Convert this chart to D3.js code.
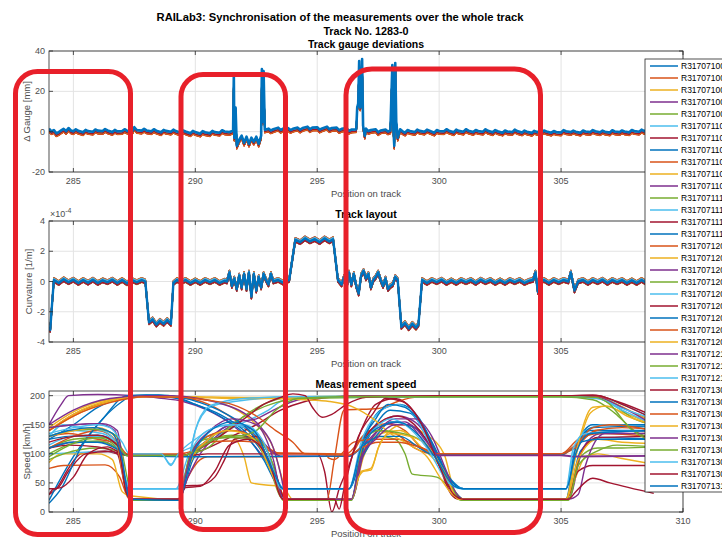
<!DOCTYPE html>
<html>
<head>
<meta charset="utf-8">
<script src="https://cdn.jsdelivr.net/npm/d3@7"></script>
<style>
  body { margin: 0; background: #fff; }
  text { font-family: "Liberation Sans", Arial, sans-serif; }
</style>
</head>
<body>
<div id="chart"></div>
<script>
// ---- data ----
const seriesNames = [
  'R31707100','R31707100','R31707100','R31707100','R31707100',
  'R31707110','R31707110','R31707110','R31707110','R31707110','R31707110',
  'R31707111','R31707111','R31707111','R31707111',
  'R31707120','R31707120','R31707120','R31707120','R31707120','R31707120','R31707120','R31707120','R31707120',
  'R31707121','R31707121','R31707121',
  'R31707130','R31707130','R31707130','R31707130','R31707130','R31707130','R31707130','R31707130',
  'R31707131'
]
const lineColors = ['#0072BD','#D95319','#EDB120','#7E2F8E','#77AC30','#4DBEEE','#A2142F']

const xTicks = [285, 290, 295, 300, 305, 310]
const gaugeTicks = [-20, 0, 20, 40]
const curvTicks = [-4, -2, 0, 2, 4]
const speedTicks = [0, 50, 100, 150, 200]

// track gauge deviation [mm], top trace (last run)
const gaugeTrace = [[284.0,1.5],[284.1,0.2],[284.2,0.8],[284.3,-0.8],[284.4,-0.2],[284.5,0.6],[284.6,1.4],[284.7,0.3],[284.8,1.8],[284.9,0.6],[285.0,0.2],[285.1,1.2],[285.2,0.4],[285.4,-0.3],[285.5,0.9],[285.6,0.3],[285.8,0],[285.9,1.1],[286.0,0.5],[286.2,0.3],[286.3,1.3],[286.4,0.6],[286.6,-0.2],[286.7,0.9],[286.8,0.2],[287.0,0.3],[287.1,1.2],[287.2,0.5],[287.4,0],[287.5,2.2],[287.6,0.8],[287.8,0.5],[287.9,1.4],[288.0,0.6],[288.2,0.2],[288.3,1.2],[288.4,0.5],[288.6,-0.3],[288.7,0.9],[288.8,0.4],[289.0,0],[289.1,1.0],[289.2,0.3],[289.4,-0.5],[289.5,0.6],[289.6,0.1],[289.8,-0.8],[289.9,0.4],[290.0,-0.2],[290.2,-1.0],[290.3,0.3],[290.4,-0.3],[290.6,-0.8],[290.7,0.4],[290.8,-0.2],[291.0,-0.5],[291.1,0.7],[291.2,0.1],[291.4,-0.2],[291.55,0.5],[291.58,28],[291.6,-3],[291.65,12],[291.7,-7],[291.8,-4],[291.9,-2],[292.0,-5.5],[292.1,-2.5],[292.2,-6],[292.3,-3],[292.4,-5],[292.5,-2.5],[292.6,-6],[292.7,-2],[292.73,31],[292.76,5],[292.8,30],[292.85,1],[293.0,1.5],[293.1,0.6],[293.2,1.2],[293.4,2.0],[293.5,0.9],[293.6,1.5],[293.8,1.8],[293.9,0.8],[294.0,1.4],[294.2,2.0],[294.3,1.0],[294.4,1.8],[294.6,2.5],[294.7,1.2],[294.8,2.0],[295.0,2.2],[295.1,1.0],[295.2,1.6],[295.4,2.5],[295.5,1.2],[295.6,1.8],[295.8,2.0],[295.9,0.8],[296.0,1.4],[296.2,1.8],[296.3,0.4],[296.4,1.0],[296.6,1.2],[296.64,12],[296.68,14],[296.72,35],[296.76,12],[296.8,14],[296.84,36],[296.88,3],[296.95,-2],[297.0,1.5],[297.1,0.3],[297.2,0.8],[297.4,1.2],[297.5,-0.3],[297.6,0.6],[297.8,1.0],[297.9,0.1],[298.0,0.6],[298.08,33],[298.12,2],[298.16,-7],[298.2,34],[298.24,5],[298.3,-3],[298.4,1.2],[298.5,0.2],[298.6,-0.5],[298.7,0.8],[298.8,0.3],[299.0,-0.2],[299.1,1.0],[299.2,0.4],[299.4,0],[299.5,1.0],[299.6,0.5],[299.8,-0.5],[299.9,0.8],[300.0,0.3],[300.2,0.2],[300.3,1.2],[300.4,0.5],[300.6,-0.3],[300.7,1.0],[300.8,0.4],[301.0,0],[301.1,1.2],[301.2,0.5],[301.4,-0.2],[301.5,0.8],[301.6,0.3],[301.8,0],[301.9,1.2],[302.0,0.4],[302.2,-0.3],[302.3,0.8],[302.4,0.2],[302.6,-0.5],[302.7,0.6],[302.8,0.1],[303.0,-0.2],[303.1,1.0],[303.2,0.3],[303.4,-0.4],[303.5,0.5],[303.6,0],[303.8,-0.6],[303.9,0.4],[304.0,-0.1],[304.2,-0.3],[304.3,0.6],[304.4,0.1],[304.6,-0.5],[304.7,0.3],[304.8,-0.2],[305.0,-0.4],[305.1,0.8],[305.2,0.2],[305.4,-0.2],[305.5,0.5],[305.6,0],[305.8,-0.5],[305.9,0.6],[306.0,0.1],[306.2,-0.2],[306.3,0.8],[306.4,0.2],[306.6,-0.3],[306.7,0.5],[306.8,0],[307.0,-0.4],[307.1,0.7],[307.2,0.1],[307.4,-0.2],[307.5,0.6],[307.6,0.1],[307.8,-0.3],[307.9,0.8],[308.0,0.3],[308.2,0],[308.3,1.0],[308.4,0.4],[308.6,0.2]]
// how far each run sits below the top trace [mm]
const gaugeOffsets = [-0.6,-1.3,-1.0,-0.8,-1.1,-0.5,-1.4,-0.4,-1.2,-0.9,-0.7,-1.1,-0.5,-1.5,-0.3,-1.3,-0.8,-0.6,-1.0,-0.4,-1.2,-0.3,-1.5,-0.9,-0.5,-1.1,-0.7,-1.3,-0.2,-1.6,-1.1,-0.6,-0.8,-0.4,-1.0,0]

// curvature [1e-4 1/m]
const curvTrace = [[284.0,-3.0],[284.05,-3.2],[284.12,-1.6],[284.2,0.1],[284.4,-0.1],[284.6,0.15],[284.8,-0.05],[285.0,0.12],[285.2,-0.1],[285.4,0.1],[285.6,-0.08],[285.8,0.12],[286.0,-0.1],[286.2,0.08],[286.4,-0.05],[286.6,0.12],[286.8,-0.1],[287.0,0.1],[287.2,-0.12],[287.4,0.1],[287.6,-0.05],[287.8,0.1],[287.95,0],[288.1,-2.7],[288.25,-2.5],[288.4,-2.85],[288.55,-2.6],[288.7,-2.8],[288.85,-2.55],[289.0,-2.8],[289.1,-0.1],[289.25,0.1],[289.4,-0.05],[289.6,0.1],[289.8,-0.1],[290.0,0.08],[290.2,-0.1],[290.4,0.1],[290.6,-0.05],[290.8,0.1],[291.0,-0.1],[291.2,0.05],[291.3,0],[291.4,0.6],[291.5,-0.3],[291.6,0.2],[291.7,-0.5],[291.8,0.4],[291.9,-0.4],[292.0,0.5],[292.1,-0.5],[292.2,0.6],[292.3,-1.0],[292.4,0.5],[292.5,-0.6],[292.6,0.3],[292.7,-0.4],[292.8,0.5],[292.9,0.1],[293.0,-0.2],[293.1,0.5],[293.2,0],[293.4,0.1],[293.6,-0.08],[293.85,0.1],[294.1,2.75],[294.3,2.6],[294.5,2.85],[294.7,2.65],[294.9,2.8],[295.1,2.6],[295.3,2.85],[295.5,2.65],[295.65,2.8],[295.85,0.1],[296.0,-0.2],[296.1,0.3],[296.2,-0.5],[296.3,0.6],[296.4,-0.2],[296.5,0.5],[296.6,-0.3],[296.7,-0.8],[296.8,0.4],[296.9,0.7],[297.0,0.2],[297.1,0.5],[297.2,-0.4],[297.3,0.1],[297.4,0.3],[297.5,0.6],[297.6,0.1],[297.7,-0.3],[297.8,0.2],[297.9,-0.5],[298.0,-0.3],[298.1,-0.2],[298.2,0.3],[298.3,0.1],[298.45,-3.0],[298.6,-2.75],[298.75,-3.1],[298.9,-2.8],[299.05,-3.05],[299.15,-2.85],[299.3,0.1],[299.5,-0.1],[299.7,0.1],[299.9,-0.05],[300.1,0.12],[300.3,-0.1],[300.5,0.08],[300.7,-0.1],[300.9,0.1],[301.1,-0.05],[301.3,0.1],[301.5,-0.1],[301.7,0.12],[301.9,-0.05],[302.1,0.1],[302.3,-0.1],[302.5,0.08],[302.7,-0.1],[302.9,0.1],[303.1,-0.05],[303.3,0.1],[303.5,-0.1],[303.7,0.05],[303.85,0.1],[303.95,0.6],[304.05,-0.7],[304.15,0],[304.3,0.1],[304.5,-0.1],[304.7,0.1],[304.9,-0.05],[305.1,0.1],[305.3,0],[305.4,0.6],[305.55,-0.6],[305.7,0],[305.9,0.1],[306.1,-0.1],[306.3,0.1],[306.5,-0.05],[306.7,0.12],[306.9,-0.1],[307.1,0.1],[307.3,-0.05],[307.5,0.1],[307.7,-0.1],[307.9,0.08],[308.1,-0.1],[308.3,0.1],[308.5,-0.1],[308.7,0.05]]
const curvOffsets = [0.1,-0.12,0.08,-0.1,0.12,-0.05,0.15,-0.08,0.1,-0.15,0.05,0.12,-0.1,-0.14,0.08,0.1,-0.06,0.13,-0.12,0.06,-0.1,0.09,-0.08,0.14,-0.13,0.07,-0.09,0.11,-0.05,0.12,-0.11,0.04,-0.07,0.1,-0.13,0]

// measured speed [km/h] per run
const speedTraces = [
  [[284,125],[284.8,130],[286,132],[286.7,120],[287.1,60],[287.4,22],[289.3,21],[289.9,90],[290.6,125],[291.5,150],[292.4,135],[293.2,70],[293.7,22],[296.4,21],[297,130],[297.6,175],[298.4,185],[299.2,160],[299.9,100],[300.5,45],[301,22],[305.2,22],[305.8,105],[306.6,128],[308.8,125]],
  [[284,140],[285,168],[286.5,190],[288,198],[289.5,196],[290.5,186],[291.5,162],[292.5,128],[293.2,102],[296.2,100],[296.9,132],[297.8,152],[298.6,140],[299.4,105],[299.9,98],[305,98],[305.8,122],[306.5,140],[308.8,138]],
  [[284,145],[285,172],[286.3,192],[288,199],[289.5,198],[290.5,193],[291.5,180],[292.5,150],[293.2,110],[293.7,40],[294,22],[296.4,22],[296.8,70],[297.2,75],[297.6,120],[298.5,150],[299.4,135],[300.2,100],[300.6,40],[301,22],[305.2,22],[305.6,95],[306.2,170],[306.8,182],[307.6,170],[308.8,150]],
  [[284,150],[284.5,185],[284.8,200],[286,202],[287.5,200],[288.5,196],[289.5,190],[290.5,175],[291.5,150],[292.5,110],[293.3,60],[293.7,22],[296.4,22],[296.9,115],[297.5,150],[298.3,165],[299,155],[299.8,110],[300.5,45],[301,22],[305.3,22],[305.9,110],[306.6,135],[308.8,140]],
  [[284,110],[285,125],[286,128],[286.8,110],[287.2,40],[287.4,20],[289.3,20],[289.8,90],[290.4,120],[291.5,132],[292.3,128],[293,80],[293.6,22],[296.4,22],[296.9,105],[297.5,130],[298.2,125],[298.6,100],[298.9,65],[299.9,60],[300.5,40],[301,22],[305.3,22],[305.8,95],[306.5,110],[307.5,110],[308.8,112]],
  [[284,130],[285,140],[286.2,135],[286.8,110],[287.2,45],[287.4,40],[289.3,40],[289.6,70],[290,140],[290.6,180],[291.3,188],[292,192],[293,196],[294,198],[297,199],[301,199],[305,199],[306.5,198],[307.5,185],[308.8,160]],
  [[284,30],[284.3,40],[284.8,75],[285.3,100],[286.3,105],[286.8,100],[287.3,97],[289.5,97],[290.2,105],[291.5,130],[292.5,150],[293.5,175],[294.5,190],[295.5,197],[297,200],[301,200],[305,200],[306.5,200],[307.5,185],[308.8,160]],
  [[284,20],[285,95],[286.2,160],[287.2,200],[288,201],[289,199],[290,185],[291,165],[292,135],[292.8,90],[293.4,45],[293.6,40],[296.3,40],[296.8,100],[297.4,150],[298,175],[298.8,170],[299.5,130],[300.1,80],[300.6,48],[301,40],[305.2,40],[305.6,110],[306.3,150],[308.8,150]],
  [[284,75],[284.6,80],[286.3,81],[286.9,60],[287.3,22],[289.3,22],[289.7,60],[290.2,90],[290.5,95],[293.5,95],[296.3,96],[296.8,125],[297.5,140],[298.2,135],[299,110],[299.8,100],[305,100],[305.7,125],[306.6,135],[308.8,130]],
  [[284,85],[284.5,100],[286,100],[286.6,90],[287,35],[287.3,28],[289.3,22],[289.8,85],[290.5,120],[291.5,130],[292,95],[292.3,50],[293,46],[293.4,45],[293.7,22],[296.4,22],[296.9,95],[297.6,135],[298.4,140],[299.3,110],[300.2,70],[300.8,25],[301.1,22],[305.2,22],[305.6,60],[306,95],[306.5,100],[307.5,92],[308.8,82]],
  [[284,110],[285,120],[286.3,120],[286.9,105],[287.3,97],[289.5,97],[290.1,110],[290.8,135],[291.5,150],[292.2,145],[293,110],[293.5,96],[296.3,96],[297,120],[297.8,150],[298.6,155],[299.3,125],[299.8,98],[305,98],[305.6,96],[308.8,97]],
  [[284,100],[285,118],[286,122],[286.8,108],[287.2,35],[287.4,20],[289.3,20],[289.8,95],[290.5,130],[291.3,140],[292,165],[292.8,185],[293.5,195],[294.5,198],[297,199],[301,199],[305,199],[306.5,197],[307.3,180],[308,160],[308.8,150]],
  [[284,100],[285,102],[286.5,104],[287,100],[287.3,100],[288.6,100],[289,80],[289.3,100],[290.5,120],[291.3,140],[292.3,160],[293,175],[293.5,190],[294.5,197],[300,198],[305,198],[306.5,195],[307.5,175],[308.8,150]],
  [[284,40],[284.3,40],[284.8,70],[285.5,100],[286.5,104],[287,100],[287.3,97],[289.5,97],[290,98],[290.5,100],[295,100],[295.3,70],[295.6,0],[295.9,40],[296.3,80],[296.8,140],[297.4,185],[298.2,195],[299,170],[299.8,100],[300.5,40],[301,22],[305.2,22],[305.7,70],[306.3,80],[308.8,80]],
  [[284,125],[285,150],[286,180],[287,196],[288,200],[289,197],[290,185],[291,168],[292,140],[292.8,100],[293.3,60],[293.6,40],[296.3,40],[296.8,90],[297.5,135],[298,155],[299,145],[299.8,105],[300.5,55],[301,40],[305.2,40],[305.6,110],[306.2,140],[308.8,140]],
  [[284,110],[285,130],[286,140],[286.8,120],[287.2,40],[287.4,22],[289.3,22],[289.8,100],[290.5,130],[291.5,140],[292.5,125],[293.2,60],[293.6,22],[295.4,22],[295.7,90],[296.1,175],[297.5,178],[298.3,190],[299,197],[301,199],[305,199],[306.5,198],[307.5,180],[308.8,155]],
  [[284,140],[285,168],[286.5,192],[288,199],[290,198],[292,197],[294,197],[298,199],[302,199],[305,199],[306.5,196],[307.3,185],[308,170],[308.8,155]],
  [[284,145],[285,150],[286,152],[286.7,140],[287.1,60],[287.4,20],[289.3,20],[289.7,60],[290.2,100],[291,135],[291.8,155],[292.5,160],[293.2,175],[294,190],[295,197],[297,199],[301,199],[305,200],[306.5,197],[307.5,180],[308.8,150]],
  [[284,90],[284.6,100],[286,110],[286.8,105],[287.2,97],[289.4,97],[289.8,100],[290.5,110],[291.5,150],[292.5,175],[293.3,188],[294.2,195],[297,197],[302,198],[305,198],[306.3,193],[307.2,170],[308,140],[308.8,125]],
  [[284,130],[284.6,150],[285.3,145],[286.2,140],[286.8,115],[287.2,45],[287.4,40],[289.2,40],[289.7,95],[290.5,140],[291.5,150],[292.3,140],[293,100],[293.5,45],[293.7,40],[296.3,40],[296.8,120],[297.5,170],[298.3,185],[299,165],[299.8,100],[300.5,45],[301,40],[305.2,40],[305.5,100],[306,140],[306.8,150],[308.8,145]],
  [[284,110],[284.8,115],[286,112],[286.8,100],[287.2,30],[287.4,22],[289.3,22],[289.6,45],[290.2,46],[290.8,60],[291.2,90],[291.6,125],[292.5,130],[293.2,80],[293.7,22],[296.4,22],[296.9,120],[297.6,155],[298.3,165],[299.2,140],[299.9,90],[300.5,30],[300.8,22],[305.2,22],[305.8,100],[306.5,128],[308.8,130]],
  [[284,15],[284.5,40],[285.3,110],[286.2,160],[287,190],[287.4,200],[288.5,201],[289.3,198],[290.2,188],[291.2,170],[292.2,140],[292.9,95],[293.4,40],[293.6,22],[296.4,22],[296.8,110],[297.4,160],[297.9,185],[298.6,180],[299.3,150],[300,95],[300.6,35],[301,22],[305.2,22],[305.6,110],[306.3,145],[308.8,148]],
  [[284,130],[284.8,135],[286,125],[286.8,118],[287.2,100],[289.3,100],[289.9,105],[290.5,120],[291.5,122],[292.5,120],[293.2,105],[293.5,100],[295.3,100],[295.5,92],[295.7,90],[296,100],[296.5,120],[297.3,125],[298.3,125],[299.3,110],[299.8,100],[305,100],[305.5,108],[306.4,140],[307.5,145],[308.8,142]],
  [[284,140],[285,165],[286.5,190],[288,199],[290,197],[291.5,195],[293,195],[294.5,193],[295.5,190],[296.5,180],[297.3,160],[298,135],[298.8,115],[299.5,95],[300.1,55],[300.6,28],[301,22],[305.2,22],[305.7,90],[306.5,125],[307.5,120],[308.8,118]],
  [[284,150],[285,175],[286.5,195],[288,200],[289,200],[290,196],[291,187],[292,170],[292.7,145],[293.2,110],[293.6,45],[293.7,22],[296.4,22],[296.9,100],[297.5,140],[298.2,160],[299,160],[299.7,130],[300.3,70],[300.8,25],[301,22],[305.3,22],[305.7,30],[306,80],[306.8,135],[308.8,135]],
  [[284,130],[285,140],[286,142],[286.8,130],[287.2,60],[287.4,20],[289.3,20],[289.8,100],[290.4,125],[291.5,128],[292.5,125],[293.2,80],[293.6,20],[296.4,20],[296.9,120],[297.5,140],[298.5,135],[299.5,115],[300.3,60],[300.9,20],[305.3,20],[305.7,80],[306.5,105],[307.3,115],[308.8,112]],
  [[284,115],[285,130],[286,130],[286.8,115],[287.2,50],[287.4,40],[289.3,40],[289.6,55],[290,140],[290.5,180],[291,188],[292,195],[294,198],[298,198],[303,199],[305,199],[306.5,195],[307.5,178],[308.8,160]],
  [[284,30],[284.2,40],[284.5,42],[285,60],[285.6,100],[286.4,112],[287,100],[287.3,97],[289.5,97],[290,105],[291,130],[292,160],[292.8,185],[293.5,197],[294,203],[294.5,200],[294.8,180],[295.2,163],[295.6,168],[296.2,185],[297,197],[300,200],[305,200],[306.3,201],[307.3,190],[308.8,165]],
  [[284,110],[285,120],[286,120],[286.8,108],[287.2,97],[289.5,95],[290.2,95],[296.3,96],[296.9,115],[297.6,130],[298.4,130],[299.2,110],[299.8,98],[305,98],[305.3,105],[305.8,120],[306.5,125],[308.8,125]],
  [[284,140],[285,165],[286.5,188],[288,198],[289.5,197],[290.5,192],[291.5,185],[292.5,165],[293.3,140],[294,120],[294.5,100],[296.3,98],[296.8,110],[297.5,120],[298.3,120],[299.3,110],[300,100],[305,100],[305.6,115],[306.3,145],[307,150],[308.8,140]],
  [[284,130],[285,140],[286,145],[286.7,130],[287.1,50],[287.4,22],[289.3,22],[289.8,90],[290.4,120],[291.3,140],[292,135],[292.6,115],[293.2,60],[293.6,22],[296.4,22],[296.7,60],[296.9,70],[297.2,72],[297.5,110],[298,135],[298.8,130],[299.5,115],[300.2,70],[300.8,22],[305.2,22],[305.6,100],[306.3,180],[306.9,182],[307.7,165],[308.8,150]],
  [[284,145],[285,150],[286.2,152],[286.8,140],[287.1,60],[287.4,22],[289.3,22],[289.8,95],[290.6,140],[291.5,160],[292.5,150],[293.2,90],[293.6,22],[296.4,22],[296.8,95],[297.4,125],[298.2,150],[298.8,150],[299.5,120],[300,97],[305,97],[305.5,95],[308.8,96]],
  [[284,95],[284.6,110],[285.5,125],[286.3,128],[286.9,110],[287.2,97],[289.5,97],[290,105],[290.8,125],[291.5,130],[292,132],[292.5,140],[293.3,175],[294.2,195],[296,198],[300,198],[305,198],[306.4,197],[307,185],[307.8,145],[308.8,120]],
  [[284,135],[285,145],[286,150],[286.5,145],[287,120],[287.3,100],[288.6,100],[289,82],[289.3,100],[290,125],[291,148],[292,150],[292.8,120],[293.3,60],[293.5,40],[296.3,40],[296.8,110],[297.4,145],[298,160],[298.6,150],[299.5,110],[300.4,50],[301,40],[305.2,40],[305.5,110],[306,135],[308.8,140]],
  [[284,120],[285,130],[286,132],[286.8,115],[287.2,30],[287.4,22],[289.3,22],[289.6,42],[290.2,44],[290.8,70],[291.4,115],[292.2,125],[293,90],[293.6,22],[295.7,22],[295.9,5],[296.1,40],[296.6,120],[297.3,170],[297.8,195],[298.5,190],[299.3,150],[300,80],[300.6,30],[301,22],[305.3,22],[305.6,35],[306.3,58],[307,50],[308.8,32]],
  [[284,130],[284.8,140],[285.8,145],[286.6,135],[287,90],[287.3,22],[289.3,20],[289.9,100],[290.5,135],[291.5,155],[292.4,140],[293.2,70],[293.6,40],[296.3,40],[296.8,110],[297.5,145],[298.3,155],[299.2,130],[299.9,90],[300.6,45],[301,40],[305.2,40],[305.6,100],[306.2,135],[308.8,140]]
]

// ---- layout ----
const svg = d3.select('#chart').append('svg')
  .attr('width', 722)
  .attr('height', 538)

const x = d3.scaleLinear().domain([284, 310]).range([49, 683])
const colorOf = i => lineColors[i % lineColors.length]
const legendLeft = 645, legendBottom = 492

const panels = [
  {top: 51, bottom: 172, domain: [-20, 40], ticks: gaugeTicks, title: 'Track gauge deviations', ylabel: 'Δ Gauge [mm]', ylabelX: 30},
  {top: 221, bottom: 342, domain: [-4, 4], ticks: curvTicks, title: 'Track layout', ylabel: 'Curvature [1/m]', ylabelX: 32},
  {top: 391, bottom: 512, domain: [0, 208], ticks: speedTicks, title: 'Measurement speed', ylabel: 'Speed [km/h]', ylabelX: 30}
]

svg.append('text').attr('x', 340).attr('y', 21).attr('text-anchor', 'middle')
  .attr('font-size', 11.2).attr('font-weight', 'bold').attr('fill', '#000')
  .text('RAILab3: Synchronisation of the measurements over the whole track')
svg.append('text').attr('x', 366).attr('y', 35).attr('text-anchor', 'middle')
  .attr('font-size', 10.8).attr('font-weight', 'bold').attr('fill', '#000')
  .text('Track No. 1283-0')

function drawPanel(p, idx, seriesList, curve, widthOf) {
  const y = d3.scaleLinear().domain(p.domain).range([p.bottom, p.top])
  const g = svg.append('g')

  g.append('rect').attr('x', 49).attr('y', p.top).attr('width', 634).attr('height', p.bottom - p.top).attr('fill', '#fff')

  // grid
  g.selectAll('.gx').data(xTicks).join('line')
    .attr('x1', d => x(d)).attr('x2', d => x(d)).attr('y1', p.top).attr('y2', p.bottom)
    .attr('stroke', '#e3e3e3').attr('stroke-width', 1)
  g.selectAll('.gy').data(p.ticks).join('line')
    .attr('x1', 49).attr('x2', 683).attr('y1', d => y(d)).attr('y2', d => y(d))
    .attr('stroke', '#e3e3e3').attr('stroke-width', 1)

  // data
  const clipId = 'clip' + idx
  g.append('clipPath').attr('id', clipId).append('rect')
    .attr('x', 49).attr('y', p.top).attr('width', 634).attr('height', p.bottom - p.top)
  const line = d3.line().x(d => x(d[0])).y(d => y(d[1])).curve(curve)
  g.append('g').attr('clip-path', `url(#${clipId})`)
    .selectAll('path').data(seriesList).join('path')
      .attr('d', d => line(d))
      .attr('fill', 'none')
      .attr('stroke', (d, i) => colorOf(i))
      .attr('stroke-width', (d, i) => widthOf(i))
      .attr('stroke-linejoin', 'round')

  // box + ticks
  const ax = g.append('g').attr('stroke', '#262626').attr('stroke-width', 0.8).attr('fill', 'none')
  ax.append('rect').attr('x', 49).attr('y', p.top).attr('width', 634).attr('height', p.bottom - p.top)
  ax.selectAll('.tb').data(xTicks).join('path')
    .attr('d', d => `M${x(d)},${p.bottom}v-4M${x(d)},${p.top}v4`)
  ax.selectAll('.tl').data(p.ticks).join('path')
    .attr('d', d => `M49,${y(d)}h4M683,${y(d)}h-4`)

  // tick labels (the ones under the legend box are hidden in the figure)
  const shownX = xTicks.filter(t => !(x(t) + 8 > legendLeft && p.bottom + 12 < legendBottom))
  g.selectAll('.xl').data(shownX).join('text')
    .attr('x', d => x(d)).attr('y', p.bottom + 12).attr('text-anchor', 'middle')
    .attr('font-size', 9).attr('fill', '#4d4d4d').text(d => d)
  g.selectAll('.yl').data(p.ticks).join('text')
    .attr('x', 45).attr('y', d => y(d) + 3).attr('text-anchor', 'end')
    .attr('font-size', 9).attr('fill', '#4d4d4d').text(d => d)

  // labels
  g.append('text').attr('x', 366).attr('y', p.bottom + 25).attr('text-anchor', 'middle')
    .attr('font-size', 9.5).attr('fill', '#4d4d4d').text('Position on track')
  g.append('text').attr('x', 366).attr('y', p.top - 3).attr('text-anchor', 'middle')
    .attr('font-size', 10.5).attr('font-weight', 'bold').attr('fill', '#000').text(p.title)
  g.append('text')
    .attr('transform', `translate(${p.ylabelX},${(p.top + p.bottom) / 2}) rotate(-90)`)
    .attr('text-anchor', 'middle').attr('font-size', 9.5).attr('fill', '#4d4d4d').text(p.ylabel)
}

const gaugeSeries = gaugeOffsets.map(off => gaugeTrace.map(([pos, v]) => [pos, v + off]))
const curvSeries = curvOffsets.map(off => curvTrace.map(([pos, v]) => [pos, v + off]))

drawPanel(panels[0], 0, gaugeSeries, d3.curveLinear, i => i === 35 ? 2.6 : 1.4)
drawPanel(panels[1], 1, curvSeries, d3.curveLinear, i => i === 35 ? 2.4 : 1.4)
drawPanel(panels[2], 2, speedTraces, d3.curveMonotoneX, () => 1.4)

// exponent label of the curvature axis
const expo = svg.append('text').attr('x', 50).attr('y', 217).attr('font-size', 9).attr('fill', '#4d4d4d')
expo.append('tspan').text('×10')
expo.append('tspan').attr('dy', -4).attr('font-size', 7).text('-4')

// ---- legend ----
const legend = svg.append('g')
legend.append('rect').attr('x', legendLeft).attr('y', 59).attr('width', 90).attr('height', legendBottom - 59)
  .attr('fill', '#fff').attr('stroke', '#262626').attr('stroke-width', 0.8)
const rows = legend.selectAll('g.row').data(seriesNames).join('g')
  .attr('transform', (d, i) => `translate(0,${66 + i * 12})`)
rows.append('line').attr('x1', 650).attr('x2', 678).attr('y1', 0).attr('y2', 0)
  .attr('stroke', (d, i) => colorOf(i)).attr('stroke-width', 1.5)
rows.append('text').attr('x', 681).attr('y', 3).attr('font-size', 8.5).attr('fill', '#000').text(d => d)

// ---- red highlight frames ----
const frames = [
  {x: 15.5, y: 71.5, w: 115, h: 463, r: 22},
  {x: 181, y: 74.5, w: 104.5, h: 455, r: 22},
  {x: 346, y: 69, w: 194.5, h: 463.5, r: 26}
]
svg.selectAll('rect.frame').data(frames).join('rect')
  .attr('class', 'frame')
  .attr('x', d => d.x).attr('y', d => d.y).attr('width', d => d.w).attr('height', d => d.h)
  .attr('rx', d => d.r).attr('ry', d => d.r)
  .attr('fill', 'none').attr('stroke', '#e8202a').attr('stroke-width', 5)
</script>
</body>
</html>
